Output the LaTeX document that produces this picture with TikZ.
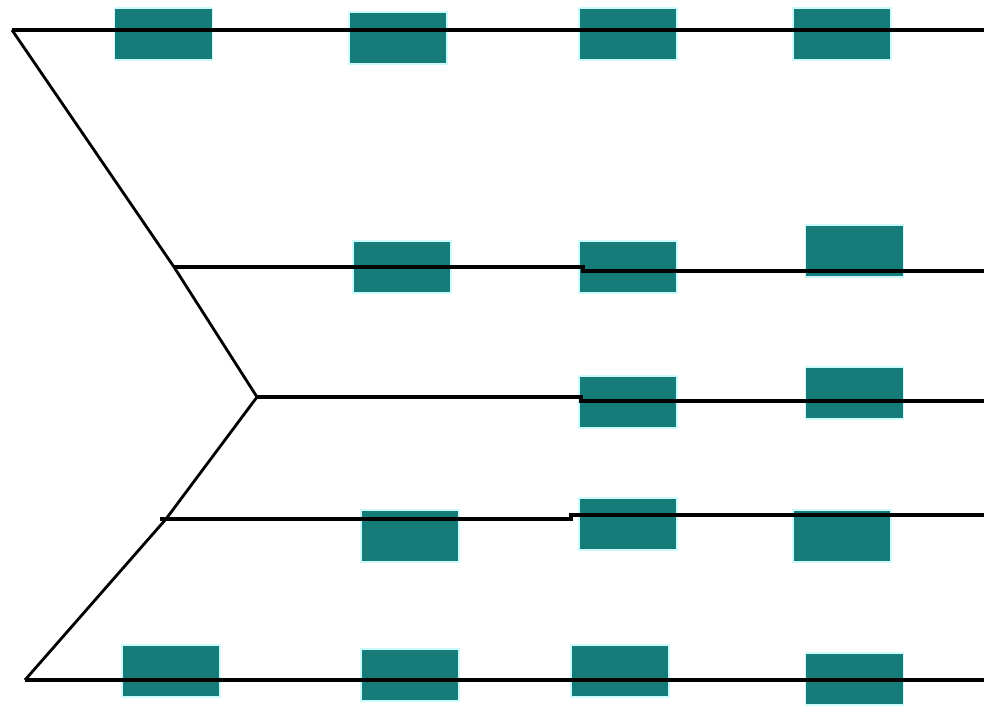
\documentclass[tikz,border=0pt]{standalone}
\usepackage{tikz}

\definecolor{teal}{RGB}{22,124,121}
\definecolor{halo}{RGB}{205,250,250}

\begin{document}
\begin{tikzpicture}[x=0.025cm,y=-0.025cm,
  block/.style={rectangle,fill=teal,draw=halo,line width=1.2pt,
    minimum width=2.45cm,minimum height=1.3cm,inner sep=0pt},
  wire/.style={line width=2.6pt},
  spine/.style={line width=2pt,line join=miter}]
  \useasboundingbox (0,0) rectangle (984,705);
  \node[block] (r11) at (163.5,34) {};
  \node[block] (r12) at (398,38) {};
  \node[block] (r13) at (628,34) {};
  \node[block] (r14) at (842,34) {};
  \node[block] (r21) at (402,267) {};
  \node[block] (r22) at (628,267) {};
  \node[block] (r23) at (854.5,251) {};
  \node[block] (r31) at (628,402) {};
  \node[block] (r32) at (854.5,393) {};
  \node[block] (r41) at (410,536) {};
  \node[block] (r42) at (628,524) {};
  \node[block] (r43) at (842,536) {};
  \node[block] (r51) at (171,671) {};
  \node[block] (r52) at (410,675) {};
  \node[block] (r53) at (620,671) {};
  \node[block] (r54) at (854.5,679) {};
  \coordinate (A) at (12,30);
  \coordinate (B) at (174,267);
  \coordinate (C) at (257,397);
  \coordinate (D) at (166,519);
  \coordinate (E) at (25,680);
  \coordinate (A1) at (984,30);
  \coordinate (B0) at (583,267);
  \coordinate (B1) at (583,271);
  \coordinate (B2) at (984,271);
  \coordinate (C0) at (581,397);
  \coordinate (C1) at (581,401);
  \coordinate (C2) at (984,401);
  \coordinate (D0) at (160,519);
  \coordinate (D1) at (571,519);
  \coordinate (D2) at (571,515);
  \coordinate (D3) at (984,515);
  \coordinate (E1) at (984,680);
  \draw[spine] (A) -- (B) -- (C) -- (D) -- (E);
  \draw[wire] (A) -- (A1);
  \draw[wire] (B) -- (B0) -- (B1) -- (B2);
  \draw[wire] (C) -- (C0) -- (C1) -- (C2);
  \draw[wire] (D0) -- (D1) -- (D2) -- (D3);
  \draw[wire] (E) -- (E1);
\end{tikzpicture}
\end{document}
